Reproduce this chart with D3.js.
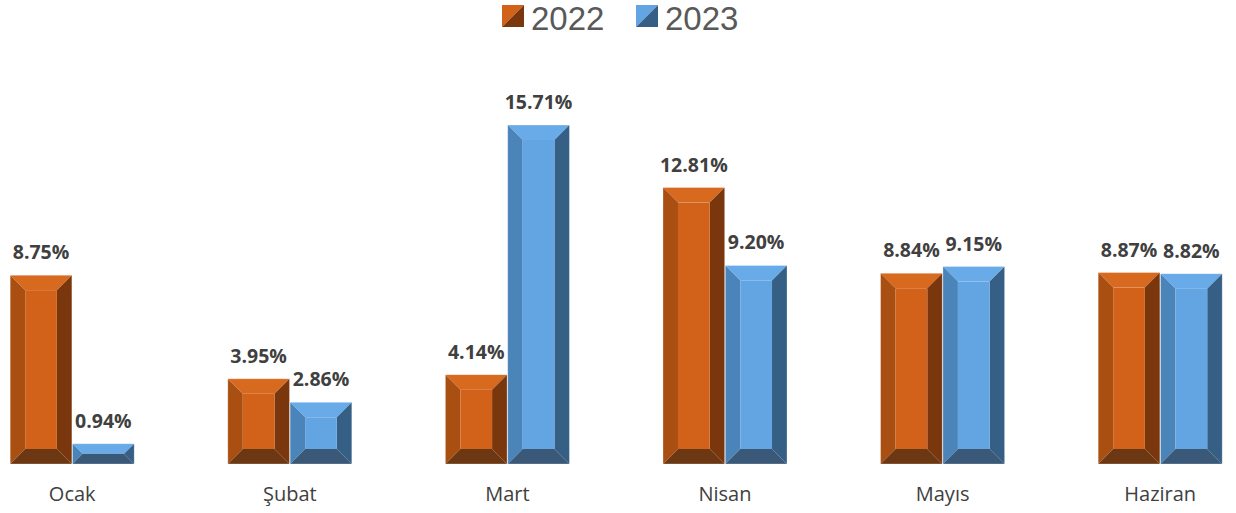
<!DOCTYPE html>
<html><head><meta charset="utf-8">
<script src="https://cdn.jsdelivr.net/npm/d3@7"></script>
<style>body{margin:0;background:#fff}svg{display:block}</style>
</head><body>
<svg id="c" width="1236" height="513"></svg>
<script>
const categories = ["Ocak","Şubat","Mart","Nisan","Mayıs","Haziran"];
const seriesNames = ["2022","2023"];
const values2022 = [8.75, 3.95, 4.14, 12.81, 8.84, 8.87];
const values2023 = [0.94, 2.86, 15.71, 9.20, 9.15, 8.82];

const palette = {
  "2022": {face:"#D2621A", top:"#D86A20", left:"#AA4F12", right:"#7A370D", bottom:"#6C3813"},
  "2023": {face:"#62A5E2", top:"#68ABE8", left:"#4B84B9", right:"#365F85", bottom:"#3A5877"}
};
const font = "'Open Sans', 'Liberation Sans', sans-serif";
const svg = d3.select("#c");
const x = d3.scaleBand().domain(categories).range([-36.6, 1269]).paddingInner(0.43).paddingOuter(0.215);
const x1 = d3.scaleBand().domain(seriesNames).range([0, x.bandwidth()]).paddingInner(0.01);
const y = d3.scaleLinear().domain([0, 15.71]).range([464, 125]);

const data = [];
categories.forEach((c,i)=>{
  data.push({cat:c, s:"2022", v:values2022[i]});
  data.push({cat:c, s:"2023", v:values2023[i]});
});

const g = svg.append("g");
data.forEach(d=>{
  const x0 = x(d.cat) + x1(d.s), w = x1.bandwidth();
  const y0 = y(d.v), y1 = y(0), h = y1 - y0;
  const b = Math.min(15, h/2, w/2);
  const p = palette[d.s];
  const gg = g.append("g");
  const poly = (pts, fill) => gg.append("polygon").attr("points", pts.map(q=>q.join(",")).join(" ")).attr("fill", fill);
  const L=x0, R=x0+w, T=y0, B=y1;
  poly([[L,T],[R,T],[R-b,T+b],[L+b,T+b]], p.top);
  poly([[L,T],[L+b,T+b],[L+b,B-b],[L,B]], p.left);
  poly([[R,T],[R,B],[R-b,B-b],[R-b,T+b]], p.right);
  poly([[L,B],[L+b,B-b],[R-b,B-b],[R,B]], p.bottom);
  gg.append("rect").attr("x",L+b).attr("y",T+b).attr("width",Math.max(0,w-2*b)).attr("height",Math.max(0,h-2*b)).attr("fill",p.face);
  gg.append("rect").attr("x",L).attr("y",T).attr("width",w).attr("height",h).attr("fill","none").attr("stroke","rgba(255,255,255,0.35)").attr("stroke-width",0.8);
  svg.append("text").attr("x", x0 + w/2).attr("y", y0 - 16)
    .attr("text-anchor","middle").attr("font-family",font).attr("font-weight","bold")
    .attr("font-size",19.5).attr("fill","#404040").text(d.v.toFixed(2)+"%");
});

const xAxis = svg.append("g").attr("transform","translate(0,464)").call(d3.axisBottom(x).tickSize(0).tickPadding(23));
xAxis.select(".domain").remove();
xAxis.selectAll("text").attr("font-family",font).attr("font-size",20).attr("fill","#404040");

// legend
const leg = svg.append("g");
const legX = [502, 636];
seriesNames.forEach((s,i)=>{
  const p = palette[s], sx = legX[i], sy = 5, sz = 22;
  leg.append("polygon").attr("points",`${sx},${sy} ${sx+sz},${sy} ${sx},${sy+sz}`).attr("fill", p.face);
  leg.append("polygon").attr("points",`${sx+sz},${sy} ${sx+sz},${sy+sz} ${sx},${sy+sz}`).attr("fill", p.right);
  leg.append("text").attr("x", sx+29).attr("y", 30).attr("font-family","'Liberation Sans', Arial, sans-serif").attr("font-size",33).attr("fill","#595959").text(s);
});
</script>
</body></html>
